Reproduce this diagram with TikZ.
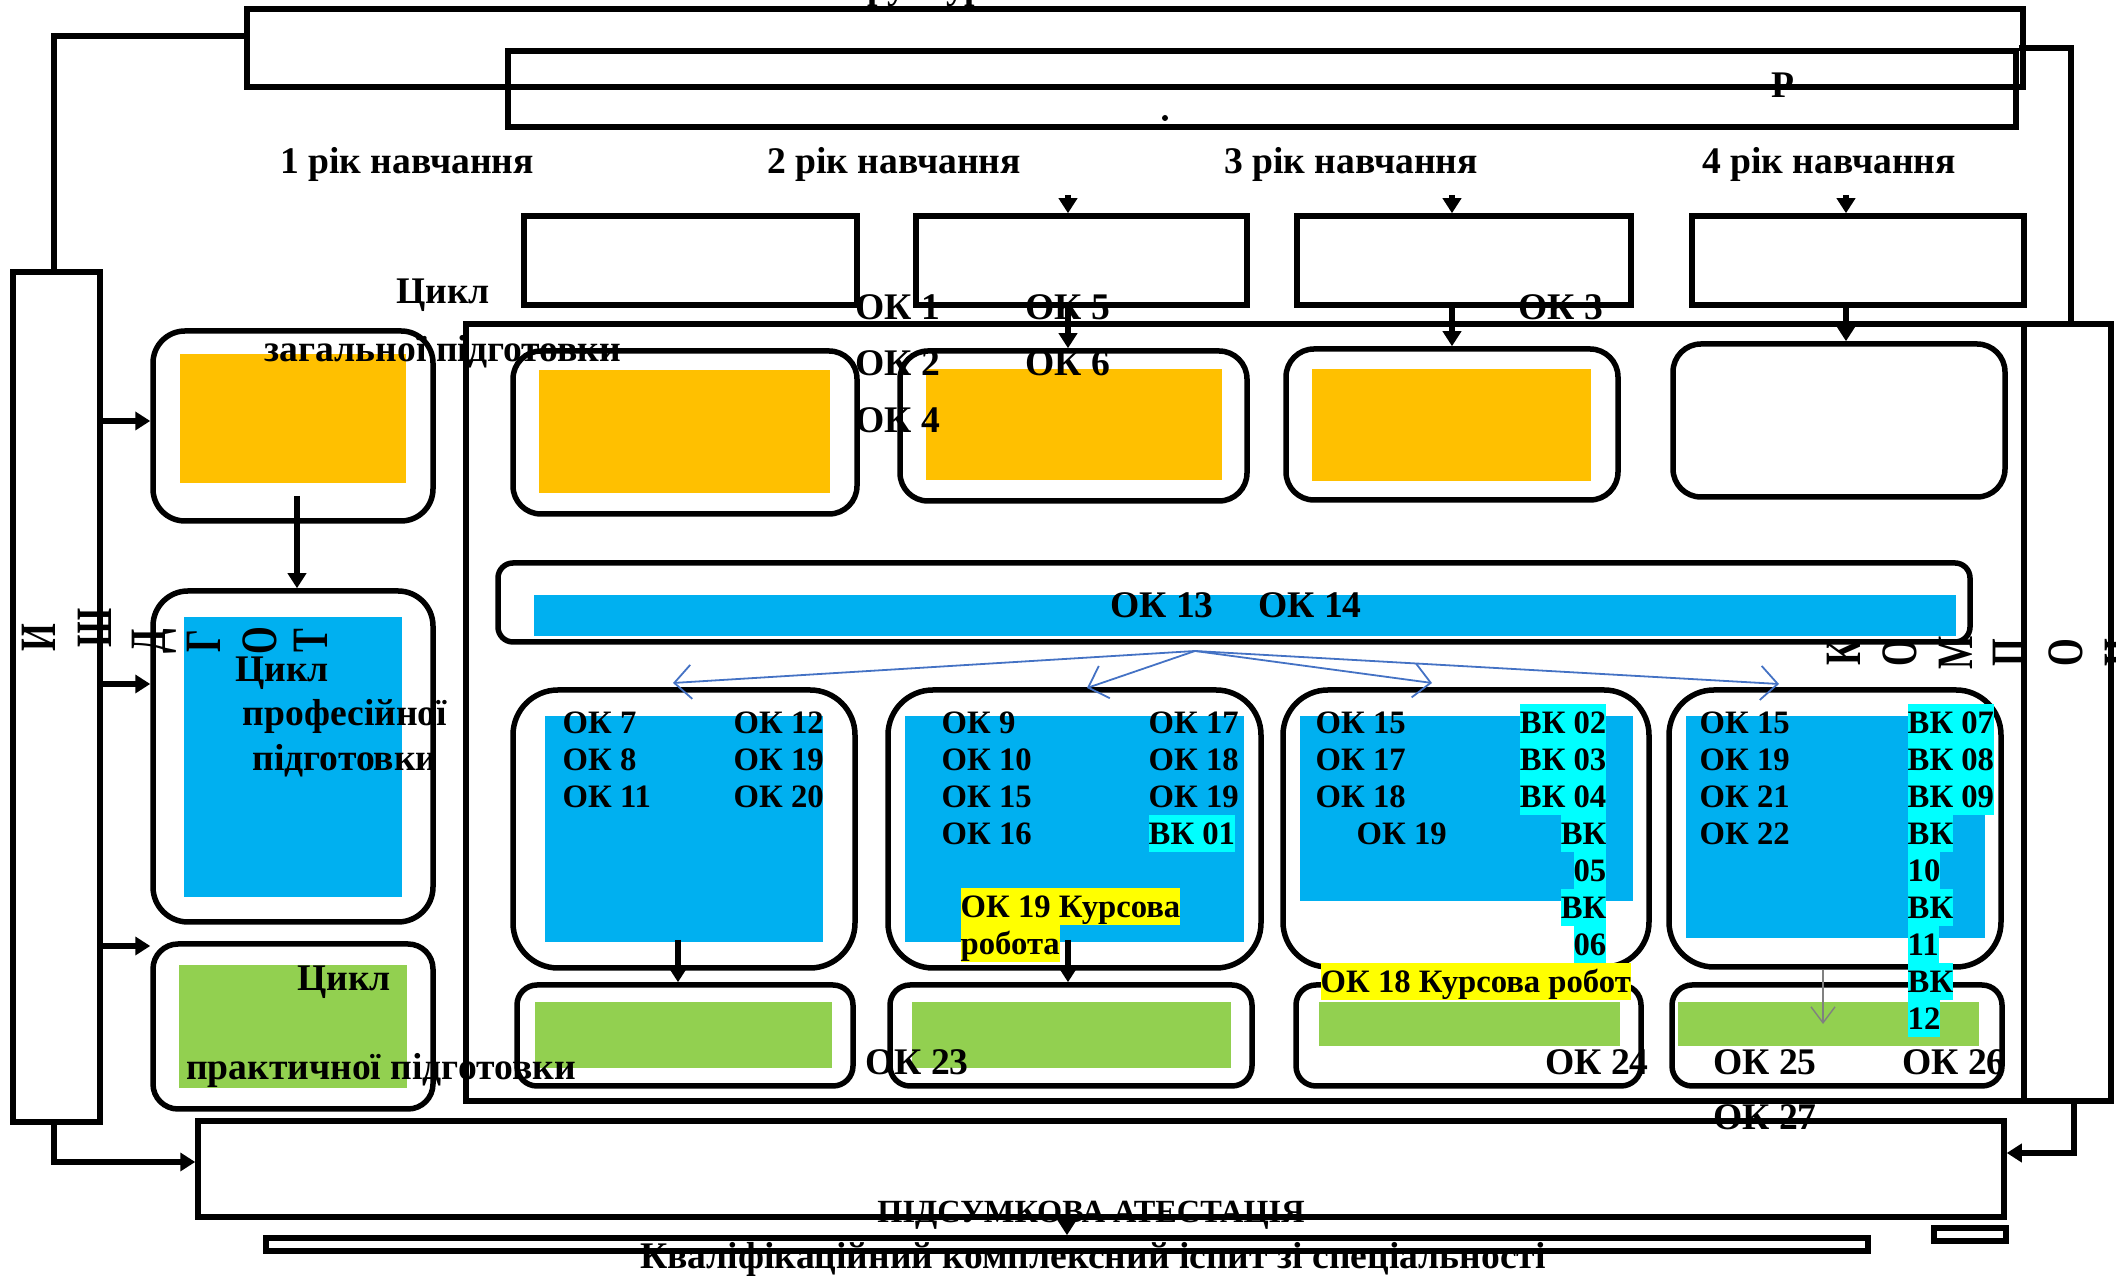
\documentclass[tikz,border=0pt]{standalone}
\usepackage{fontspec}
\setmainfont{Liberation Serif}
\usetikzlibrary{arrows.meta,fit}
\definecolor{cY}{HTML}{FFC000}
\definecolor{cB}{HTML}{00B0F0}
\definecolor{cG}{HTML}{92D050}
\definecolor{cC}{HTML}{00FFFF}
\definecolor{cHY}{HTML}{FFFF00}
\definecolor{cA}{HTML}{4472C4}
\newcommand\fA{\fontsize{10.7pt}{11pt}\selectfont\bfseries}
\newcommand\fB{\fontsize{9.3pt}{10pt}\selectfont\bfseries}
\newcommand\fP{\fontsize{9.2pt}{10pt}\selectfont\bfseries}
\newcommand\fR{\fontsize{14.5pt}{15pt}\selectfont\bfseries}
\newcommand\rlet[1]{\scalebox{0.7}[1]{#1}}
\tikzset{
  sq/.style={draw, line width=0.55mm, inner sep=0pt},
  rb/.style={draw, line width=0.55mm, inner sep=0pt, rounded corners=#1},
  fl/.style={fill=#1, inner sep=0pt},
  tx/.style={font=\fA, inner sep=0pt},
  tb/.style={font=\fB, inner sep=0pt},
  hl/.style={fill=#1, font=\fB, inner xsep=0pt, inner ysep=0pt, text height=3.0mm, text depth=0.7mm},
  rl/.style={font=\fR, inner sep=0pt, rotate=90},
  ln/.style={line width=0.55mm},
  arr/.style={line width=0.55mm, -{Triangle[length=1.5mm,width=1.8mm]}},
  fan/.style={draw=cA, line width=0.18mm, -{Straight Barb[length=1.7mm,width=3.4mm]}},
  garr/.style={draw=gray, line width=0.14mm, -{Straight Barb[length=1.6mm,width=2.4mm]}},
}
\begin{document}
\begin{tikzpicture}[x=0.1mm,y=-0.1mm]
\useasboundingbox (0,0) rectangle (2116,1276);
% outer frames
\node[sq, fit={(247,9) (2023,87)}] (T1) {};
\node[sq, fit={(508,51) (2016,127)}] (T2) {};
\node[sq, fit={(13,272) (100,1122)}] (LR) {};
\node[sq, fit={(466,324) (2024,1101)}] (MR) {};
\node[sq, fit={(2024,324) (2111,1101)}] (RR) {};
\node[sq, fit={(198,1121) (2004,1217)}] (BR) {};
\node[sq, fit={(266,1238) (1868,1251)}] (BT) {};
\node[sq, fit={(1934,1228) (2006,1241)}] (SR) {};
% year boxes
\node[sq, fit={(524,216) (857,305)}] (YB1) {};
\node[sq, fit={(916,216) (1247,305)}] (YB2) {};
\node[sq, fit={(1297,216) (1631,305)}] (YB3) {};
\node[sq, fit={(1692,216) (2024,305)}] (YB4) {};
% rounded boxes, left column
\node[rb=3.2mm, fit={(153,331) (433,521)}] (L1) {};
\node[rb=3.5mm, fit={(153,591) (433,922)}] (L2) {};
\node[rb=2.5mm, fit={(153,944) (433,1109)}] (L3) {};
% row 1
\node[rb=2.8mm, fit={(513,351) (857,514)}] (R2) {};
\node[rb=2.8mm, fit={(900,351) (1247,501)}] (R3) {};
\node[rb=2.8mm, fit={(1286,349) (1618,500)}] (R4) {};
\node[rb=2.8mm, fit={(1673,344) (2005,497)}] (R5) {};
% wide box
\node[rb=1.5mm, fit={(498,563) (1970,642)}] (W) {};
% blue row
\node[rb=4.5mm, fit={(513,690) (855,968)}] (B1) {};
\node[rb=4.5mm, fit={(888,690) (1261,968)}] (B2) {};
\node[rb=4.5mm, fit={(1283,690) (1649,967)}] (B3) {};
\node[rb=4.5mm, fit={(1669,690) (2001,967)}] (B4) {};
% green row
\node[rb=2mm, fit={(517,985) (853,1086)}] (G1) {};
\node[rb=2mm, fit={(890,985) (1252,1086)}] (G2) {};
\node[rb=2mm, fit={(1296,985) (1641,1086)}] (G3) {};
\node[rb=2mm, fit={(1672,985) (2002,1086)}] (G4) {};
% fills
\node[fl=cY, fit={(180,354) (406,483)}] (fL1) {};
\node[fl=cB, fit={(184,617) (402,897)}] (fL2) {};
\node[fl=cG, fit={(179,965) (407,1088)}] (fL3) {};
\node[fl=cY, fit={(539,370) (830,493)}] (fR2) {};
\node[fl=cY, fit={(926,369) (1222,480)}] (fR3) {};
\node[fl=cY, fit={(1312,369) (1591,481)}] (fR4) {};
\node[fl=cB, fit={(534,595) (1956,636)}] (fW) {};
\node[fl=cB, fit={(545,716) (823,942)}] (fB1) {};
\node[fl=cB, fit={(905,716) (1244,942)}] (fB2) {};
\node[fl=cB, fit={(1300,716) (1633,901)}] (fB3) {};
\node[fl=cB, fit={(1686,716) (1985,938)}] (fB4) {};
\node[fl=cG, fit={(535,1002) (832,1068)}] (fG1) {};
\node[fl=cG, fit={(912,1002) (1231,1068)}] (fG2) {};
\node[fl=cG, fit={(1319,1002) (1620,1046)}] (fG3) {};
\node[fl=cG, fit={(1678,1002) (1979,1046)}] (fG4) {};
% helper coordinates
\coordinate (xa) at (54,0);
\coordinate (ya) at (0,36);
\coordinate (yb) at (0,1162);
\coordinate (xr) at (2071,0);
\coordinate (xr2) at (2074,0);
\coordinate (yc) at (0,1153);
\coordinate (k2) at (1068,0);
\coordinate (k3) at (1452,0);
\coordinate (k4) at (1846,0);
\coordinate (ytop) at (0,195);
\coordinate (a1) at (0,421);
\coordinate (a2) at (0,684);
\coordinate (a3) at (0,946);
\coordinate (lx) at (297,0);
\coordinate (ls) at (297,496);
\coordinate (m1) at (678,0);
\coordinate (m3) at (1451,0);
\coordinate (m4) at (1823,0);
\coordinate (yblue) at (0,940);
\coordinate (fo) at (1195,651);
\coordinate (t1) at (673,683);
\coordinate (t2) at (1087,688);
\coordinate (t3) at (1432,683);
\coordinate (t4) at (1779,684);
\coordinate (bx) at (1067,0);
% connectors
\draw[ln] (T1.west |- ya) -- (xa |- ya) -- (LR.north -| xa);
\draw[arr] (LR.south -| xa) -- (xa |- yb) -- (BR.west |- yb);
\draw[ln] (T2.north east) -- (xr |- T2.north east) -- (RR.north -| xr);
\draw[arr] (RR.south -| xr2) -- (xr2 |- yc) -- (BR.east |- yc);
\draw[arr] (LR.east |- a1) -- (L1.west |- a1);
\draw[arr] (LR.east |- a2) -- (L2.west |- a2);
\draw[arr] (LR.east |- a3) -- (L3.west |- a3);
\draw[arr] (ls) -- (L2.north -| lx);
\draw[arr] (k2 |- ytop) -- (YB2.north -| k2);
\draw[arr] (k3 |- ytop) -- (YB3.north -| k3);
\draw[arr] (k4 |- ytop) -- (YB4.north -| k4);
\draw[arr] (YB2.south -| k2) -- (R3.north -| k2);
\draw[arr] (YB3.south -| k3) -- (R4.north -| k3);
\draw[arr] (YB4.south -| k4) -- (R5.north -| k4);
\draw[arr] (m1 |- yblue) -- (G1.north -| m1);
\draw[arr] (k2 |- yblue) -- (G2.north -| k2);
\draw[arr] (B3.south -| m3) -- (G3.north -| m3);
\draw[garr] (B4.south -| m4) -- (fG4.center -| m4);
\draw[fan] (fo) -- (t1);
\draw[fan] (fo) -- (t2);
\draw[fan] (fo) -- (t3);
\draw[fan] (fo) -- (t4);
\draw[arr] (BR.south -| bx) -- (BT.north -| bx);
% texts
\node[tx, anchor=base west] (s0) at (821,-1) {Структура};
\node[tx, anchor=base] (pR) at (1783,98) {Р};
\node[circle, fill, inner sep=0pt, minimum size=0.6mm] (dt) at (1165,118) {};
\node[tx, anchor=base] (y1) at (407,174) {1 рік навчання};
\node[tx, anchor=base] (y2) at (894,174) {2 рік навчання};
\node[tx, anchor=base] (y3) at (1351,174) {3 рік навчання};
\node[tx, anchor=base] (y4) at (1829,174) {4 рік навчання};
\node[tx, anchor=base] (c1a) at (443,304) {Цикл};
\node[tx, anchor=base] (c1b) at (443,362) {загальної підготовки};
\node[tx, anchor=base] (c2a) at (282,682) {Цикл};
\node[tx, anchor=base] (c2b) at (345,726) {професійної};
\node[tx, anchor=base] (c2c) at (345,771) {підготовки};
\node[tx, anchor=base] (c3a) at (344,991) {Цикл};
\node[tx, anchor=base] (c3b) at (381,1080) {практичної підготовки};
\node[tx, anchor=base west] (o1) at (855,320) {ОК 1};
\node[tx, anchor=base west] (o2) at (855,376) {ОК 2};
\node[tx, anchor=base west] (o4) at (855,433) {ОК 4};
\node[tx, anchor=base west] (o5) at (1025,320) {ОК 5};
\node[tx, anchor=base west] (o6) at (1025,376) {ОК 6};
\node[tx, anchor=base west] (o3) at (1518,320) {ОК 3};
\node[tx, anchor=base] (o13) at (1162,618) {ОК 13};
\node[tx, anchor=base] (o14) at (1310,618) {ОК 14};
% B1
\node[tb, anchor=base west] at (562,734) {ОК 7};
\node[tb, anchor=base west] at (562,771) {ОК 8};
\node[tb, anchor=base west] at (562,808) {ОК 11};
\node[tb, anchor=base west] at (733,734) {ОК 12};
\node[tb, anchor=base west] at (733,771) {ОК 19};
\node[tb, anchor=base west] at (733,808) {ОК 20};
% B2
\node[tb, anchor=base west] at (941,734) {ОК 9};
\node[tb, anchor=base west] at (941,771) {ОК 10};
\node[tb, anchor=base west] at (941,808) {ОК 15};
\node[tb, anchor=base west] at (941,845) {ОК 16};
\node[tb, anchor=base west] at (1148,734) {ОК 17};
\node[tb, anchor=base west] at (1148,771) {ОК 18};
\node[tb, anchor=base west] at (1148,808) {ОК 19};
\node[hl=cC, anchor=base west] at (1148,845) {ВК 01};
\node[hl=cHY, anchor=base west] at (960,918) {ОК 19 Курсова};
\node[hl=cHY, anchor=base west] at (960,955) {робота};
% B3
\node[tb, anchor=base west] at (1315,734) {ОК 15};
\node[tb, anchor=base west] at (1315,771) {ОК 17};
\node[tb, anchor=base west] at (1315,808) {ОК 18};
\node[tb, anchor=base west] at (1356,845) {ОК 19};
\node[hl=cC, anchor=base east] at (1607,734) {ВК 02};
\node[hl=cC, anchor=base east] at (1607,771) {ВК 03};
\node[hl=cC, anchor=base east] at (1607,808) {ВК 04};
\node[hl=cC, anchor=base east] at (1607,845) {ВК};
\node[hl=cC, anchor=base east] at (1607,882) {05};
\node[hl=cC, anchor=base east] at (1607,919) {ВК};
\node[hl=cC, anchor=base east] at (1607,956) {06};
\node[hl=cHY, anchor=base west] at (1320,993) {ОК 18 Курсова робот};
% B4
\node[tb, anchor=base west] at (1699,734) {ОК 15};
\node[tb, anchor=base west] at (1699,771) {ОК 19};
\node[tb, anchor=base west] at (1699,808) {ОК 21};
\node[tb, anchor=base west] at (1699,845) {ОК 22};
\node[hl=cC, anchor=base west] at (1907,734) {ВК 07};
\node[hl=cC, anchor=base west] at (1907,771) {ВК 08};
\node[hl=cC, anchor=base west] at (1907,808) {ВК 09};
\node[hl=cC, anchor=base west] at (1907,845) {ВК};
\node[hl=cC, anchor=base west] at (1907,882) {10};
\node[hl=cC, anchor=base west] at (1907,919) {ВК};
\node[hl=cC, anchor=base west] at (1907,956) {11};
\node[hl=cC, anchor=base west] at (1907,993) {ВК};
\node[hl=cC, anchor=base west] at (1907,1030) {12};
% green row labels
\node[tx, anchor=base] at (917,1075) {ОК 23};
\node[tx, anchor=base] at (1597,1075) {ОК 24};
\node[tx, anchor=base] at (1765,1075) {ОК 25};
\node[tx, anchor=base] at (1954,1075) {ОК 26};
\node[tx, anchor=base] at (1765,1130) {ОК 27};
% bottom
\node[font=\fP, inner sep=0pt, anchor=base] (pa) at (1091,1223) {ПІДСУМКОВА АТЕСТАЦІЯ};
\node[tx, anchor=base] (ki) at (1093,1269) {Кваліфікаційний комплексний іспит зі спеціальності};
% rotated letters left
\node[rl] at (-18,641) {\rlet{Н}};
\node[rl] at (39,638) {\rlet{И}};
\node[rl] at (95,628) {\rlet{Ш}};
\node[rl] at (154,641) {\rlet{Д}};
\node[rl] at (204,641) {\rlet{Г}};
\node[rl] at (260,641) {\rlet{О}};
\node[rl] at (311,641) {\rlet{Т}};
% rotated letters right
\node[rl] at (1844,653) {\rlet{К}};
\node[rl] at (1900,653) {\rlet{О}};
\node[rl] at (1956,653) {\rlet{М}};
\node[rl] at (2010,653) {\rlet{П}};
\node[rl] at (2066,653) {\rlet{О}};
\node[rl] at (2122,653) {\rlet{Н}};
\end{tikzpicture}
\end{document}
